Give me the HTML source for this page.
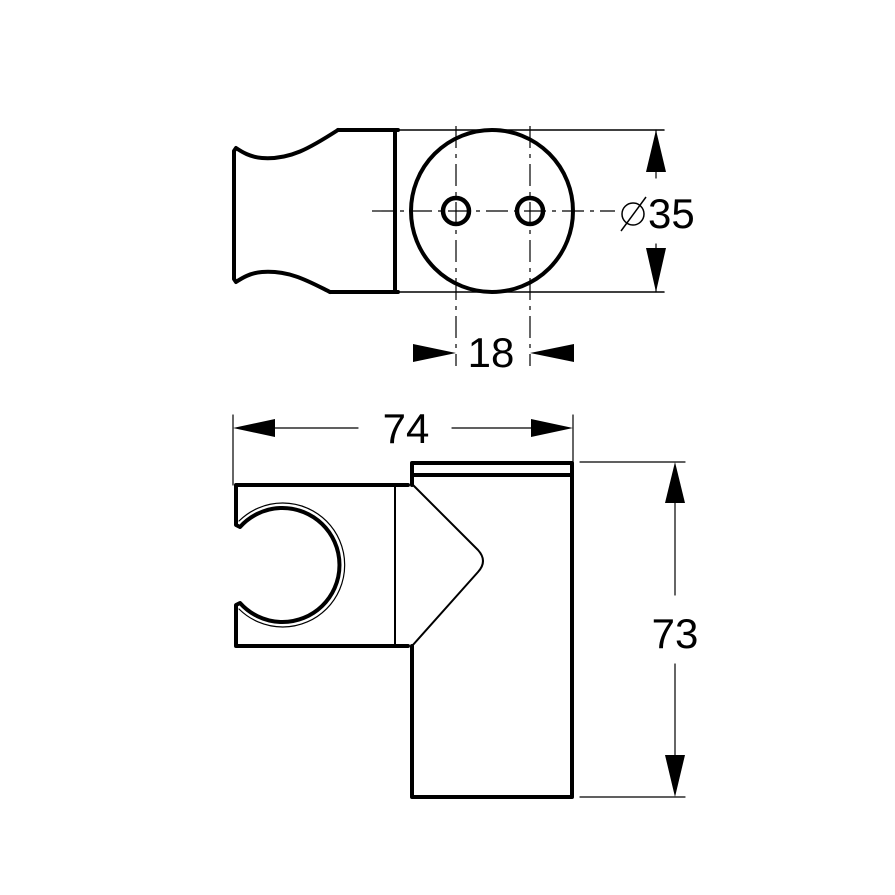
<!DOCTYPE html>
<html><head><style>html,body{margin:0;padding:0;background:#fff}svg{display:block}</style></head>
<body>
<svg width="895" height="895" viewBox="0 0 895 895" xmlns="http://www.w3.org/2000/svg">
<rect width="895" height="895" fill="#fff"/>
<g fill="none" stroke="#000" stroke-linejoin="round" stroke-linecap="round">
<!-- TOP VIEW -->
<path d="M338 130 L398 130 M330 292 L398 292" stroke-width="4"/>
<path d="M338 130 C310 148 290 160 262 158 C250 157 242 152 236 148 L234 151 L234 279 L236 282 C242 278 250 273 262 272 C290 270 310 282 330 292" stroke-width="4"/>
<line x1="395" y1="130" x2="395" y2="292" stroke-width="4"/>
<line x1="398" y1="130" x2="664" y2="130" stroke-width="1.5"/>
<line x1="398" y1="292" x2="664" y2="292" stroke-width="1.5"/>
<circle cx="492" cy="211" r="81" stroke-width="4"/>
<circle cx="456" cy="211" r="13" stroke-width="4.5"/>
<circle cx="530" cy="211" r="13" stroke-width="4.5"/>
<line x1="372" y1="211" x2="615" y2="211" stroke-width="1.2" stroke-dasharray="22,6,4,6" stroke-linecap="butt"/>
<line x1="456" y1="126" x2="456" y2="366" stroke-width="1.2" stroke-dasharray="22,6,4,6" stroke-linecap="butt"/>
<line x1="530" y1="126" x2="530" y2="366" stroke-width="1.2" stroke-dasharray="22,6,4,6" stroke-linecap="butt"/>
<line x1="656" y1="130" x2="656" y2="178" stroke-width="1.2"/>
<line x1="656" y1="244" x2="656" y2="292" stroke-width="1.2"/>
<!-- BOTTOM VIEW -->
<path d="M408 485 L236 485 L236 525 L240 527 A57 57 0 1 1 240 603 L236 605 L236 646 L408 646" stroke-width="4"/>
<path d="M239 521 A62 62 0 1 1 239 609" stroke-width="1.2"/>
<line x1="395" y1="485" x2="395" y2="646" stroke-width="2"/>
<path d="M412 475 L412 463 L572 463 L572 797 L412 797 L412 646" stroke-width="4"/>
<line x1="412" y1="475" x2="572" y2="475" stroke-width="4"/>
<line x1="412" y1="475" x2="412" y2="485" stroke-width="4"/>
<path d="M412 484 L478 550 Q488 561 478 572 L412 646" stroke-width="2"/>
<line x1="233" y1="415" x2="233" y2="485" stroke-width="1.2"/>
<line x1="573" y1="415" x2="573" y2="463" stroke-width="1.2"/>
<line x1="273" y1="428" x2="358" y2="428" stroke-width="1.2"/>
<line x1="452" y1="428" x2="533" y2="428" stroke-width="1.2"/>
<line x1="580" y1="462" x2="685" y2="462" stroke-width="1.2"/>
<line x1="580" y1="797" x2="685" y2="797" stroke-width="1.2"/>
<line x1="675" y1="503" x2="675" y2="595" stroke-width="1.2"/>
<line x1="675" y1="664" x2="675" y2="755" stroke-width="1.2"/>
</g>
<g fill="#000">
<polygon points="656,130 646,172 666,172"/>
<polygon points="656,292 646,248 666,248"/>
<polygon points="456,353 413,344 413,362"/>
<polygon points="530,353 574,344 574,362"/>
<polygon points="233,428 275,419 275,437"/>
<polygon points="573,428 531,419 531,437"/>
<polygon points="675,462 665,503 685,503"/>
<polygon points="675,797 665,755 685,755"/>
</g>
<g font-family="Liberation Sans, sans-serif" font-size="42" fill="#000">
<text x="648" y="228">35</text>
<text x="491" y="367" text-anchor="middle">18</text>
<text x="406" y="443" text-anchor="middle">74</text>
<text x="675" y="648" text-anchor="middle">73</text>
</g>
<g fill="none" stroke="#000" stroke-width="1.5">
<circle cx="633" cy="214" r="11"/>
<line x1="621" y1="231" x2="646" y2="197"/>
</g>
</svg>
</body></html>
